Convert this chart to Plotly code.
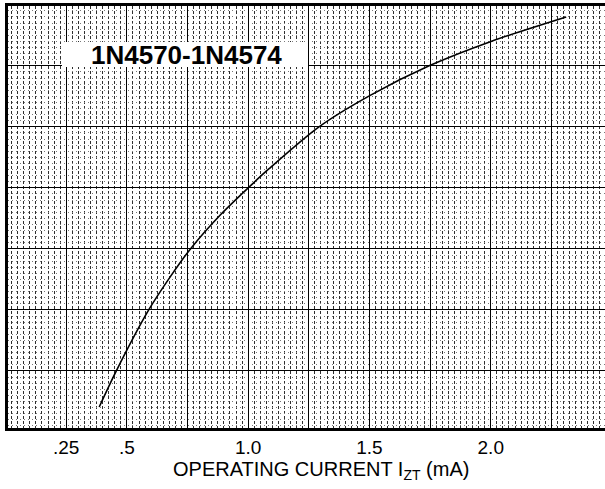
import plotly.graph_objects as go

# Curve (x in mA, y in grid divisions from the bottom)
current_ma = [0.386, 0.455, 0.590, 0.680, 0.762, 0.886, 1.000, 1.085, 1.292, 1.505, 1.746, 2.001, 2.311]
response = [0.41, 0.99, 2.00, 2.55, 3.00, 3.56, 4.00, 4.31, 5.00, 5.52, 6.00, 6.40, 6.80]

# Major grid positions on x and their labels
x_major = [0.25, 0.50, 0.75, 1.00, 1.25, 1.50, 1.75, 2.00, 2.25]
x_labels = [".25", ".5", "", "1.0", "", "1.5", "", "2.0", ""]

part_label = "1N4570-1N4574"
x_title = "OPERATING CURRENT I<sub>ZT</sub> (mA)"

W, H = 605, 489
ML, MR, MT, MB = 8, 0, 6, 61
pw = W - ML - MR
ph = H - MT - MB

fig = go.Figure()
fig.add_trace(go.Scatter(
    x=current_ma, y=response, mode="lines",
    line=dict(color="black", width=1.6, shape="spline", smoothing=0.8),
    hoverinfo="skip", showlegend=False,
))

fig.update_layout(
    width=W, height=H,
    margin=dict(l=ML, r=MR, t=MT, b=MB, pad=0),
    paper_bgcolor="white", plot_bgcolor="white",
    font=dict(family="Liberation Sans, Arial, sans-serif", color="black"),
    xaxis=dict(
        range=[0.01, 2.471],
        tickmode="array", tickvals=x_major, ticktext=x_labels,
        ticks="", tickfont=dict(size=19),
        showgrid=True, gridcolor="black", gridwidth=1,
        showline=True, linecolor="black", linewidth=3, mirror=True,
        zeroline=False, ticklabelstandoff=0,
        minor=dict(tickmode="linear", tick0=0, dtick=0.025, showgrid=True,
                   gridcolor="#2e2e2e", griddash="3px,2px", gridwidth=1),
    ),
    yaxis=dict(
        range=[0.066, 6.98],
        tickmode="linear", tick0=0, dtick=1,
        showticklabels=False, ticks="",
        showgrid=True, gridcolor="black", gridwidth=1,
        showline=True, linecolor="black", linewidth=3, mirror=False,
        zeroline=False,
        minor=dict(tickmode="linear", tick0=0, dtick=0.1, showgrid=True,
                   gridcolor="#7a7a7a", griddash="1px,3px", gridwidth=1),
    ),
)

# white box behind the part number
def px_x(p):
    return (p - ML) / pw

def px_y(p):
    return (H - MB - p) / ph

fig.add_shape(type="rect", xref="paper", yref="paper",
              x0=px_x(62), x1=px_x(308), y0=px_y(67), y1=px_y(42),
              fillcolor="white", line=dict(width=0), layer="above")

fig.add_annotation(xref="paper", yref="paper", x=px_x(186.5), y=px_y(54.5),
                   text="<b>%s</b>" % part_label, showarrow=False,
                   xanchor="center", yanchor="middle",
                   font=dict(size=26, color="black"))

fig.add_annotation(xref="paper", yref="paper", x=px_x(321), y=px_y(456),
                   text=x_title, showarrow=False,
                   xanchor="center", yanchor="top",
                   font=dict(size=20, color="black"))

fig.write_html(
    "out.html",
    config={"displayModeBar": False, "staticPlot": True},
    post_script="document.body.style.margin='0';document.body.style.padding='0';",
)
